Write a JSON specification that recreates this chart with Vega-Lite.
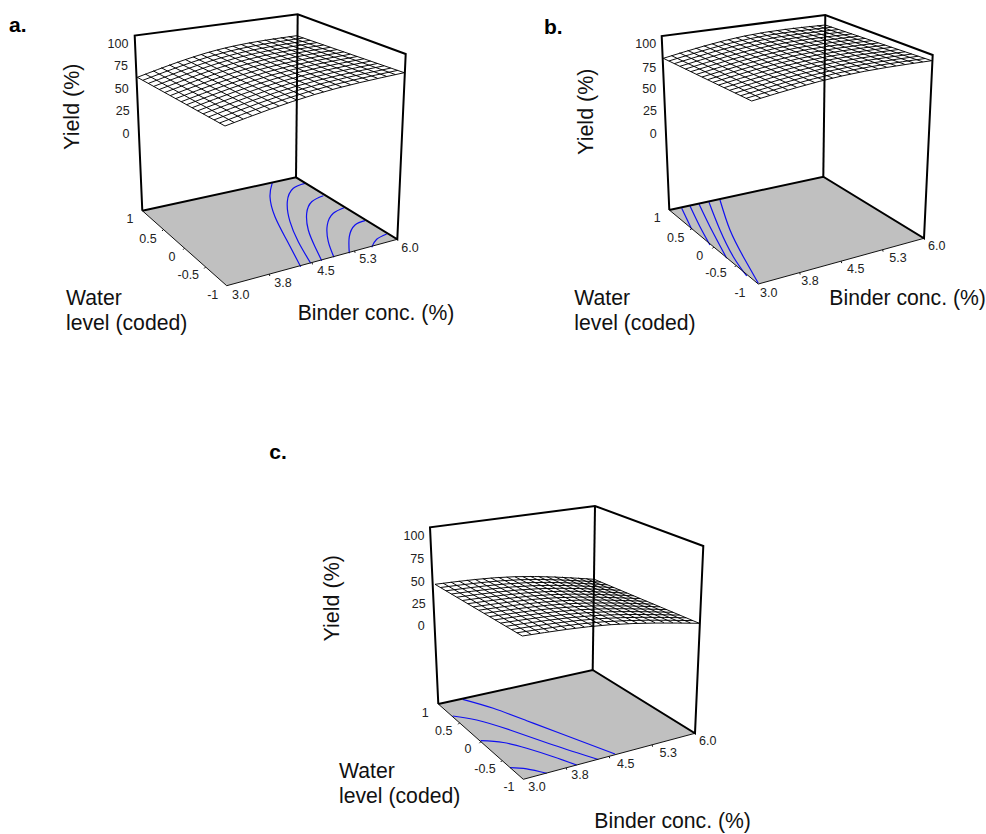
{"$schema":"https://vega.github.io/schema/vega-lite/v6.json","width":986,"height":834,"padding":0,"autosize":{"type":"none"},"background":"white","config":{"view":{"stroke":null}},
"datasets":{
"floor":[
{"p":"a","x":142.3,"y":210.7,"y2":210.7},{"p":"a","x":226.7,"y":192.4,"y2":285.7},{"p":"a","x":296,"y":177.3,"y2":266.9},{"p":"a","x":397.3,"y":239.3,"y2":239.3},
{"p":"b","x":669.3,"y":210,"y2":210},{"p":"b","x":758.3,"y":190.8,"y2":284},{"p":"b","x":823.3,"y":176.7,"y2":266.1},{"p":"b","x":924,"y":238.3,"y2":238.3},
{"p":"c","x":438.3,"y":704,"y2":704},{"p":"c","x":523.3,"y":685.3,"y2":779.3},{"p":"c","x":592.7,"y":670,"y2":760.7},{"p":"c","x":695,"y":733.3,"y2":733.3}],
"mesh":[
{"l":"aA0","x":137.3,"y":77.3},{"l":"aA0","x":217,"y":50},{"l":"aA0","x":296.7,"y":35.7},
{"l":"aA1","x":142.8,"y":80.3},{"l":"aA1","x":223.1,"y":52.8},{"l":"aA1","x":303.4,"y":38},
{"l":"aA2","x":148.3,"y":83.4},{"l":"aA2","x":229.2,"y":55.6},{"l":"aA2","x":310.1,"y":40.3},
{"l":"aA3","x":153.7,"y":86.4},{"l":"aA3","x":235.3,"y":58.3},{"l":"aA3","x":316.9,"y":42.6},
{"l":"aA4","x":159.2,"y":89.5},{"l":"aA4","x":241.4,"y":61.1},{"l":"aA4","x":323.6,"y":45},
{"l":"aA5","x":164.7,"y":92.5},{"l":"aA5","x":247.5,"y":63.9},{"l":"aA5","x":330.3,"y":47.3},
{"l":"aA6","x":170.2,"y":95.6},{"l":"aA6","x":253.6,"y":66.7},{"l":"aA6","x":337,"y":49.6},
{"l":"aA7","x":175.7,"y":98.6},{"l":"aA7","x":259.7,"y":69.5},{"l":"aA7","x":343.8,"y":51.9},
{"l":"aA8","x":181.2,"y":101.7},{"l":"aA8","x":265.8,"y":72.3},{"l":"aA8","x":350.5,"y":54.2},
{"l":"aA9","x":186.6,"y":104.7},{"l":"aA9","x":271.9,"y":75},{"l":"aA9","x":357.2,"y":56.5},
{"l":"aA10","x":192.1,"y":107.7},{"l":"aA10","x":278,"y":77.8},{"l":"aA10","x":363.9,"y":58.8},
{"l":"aA11","x":197.6,"y":110.8},{"l":"aA11","x":284.1,"y":80.6},{"l":"aA11","x":370.7,"y":61.1},
{"l":"aA12","x":203.1,"y":113.8},{"l":"aA12","x":290.2,"y":83.4},{"l":"aA12","x":377.4,"y":63.5},
{"l":"aA13","x":208.6,"y":116.9},{"l":"aA13","x":296.3,"y":86.2},{"l":"aA13","x":384.1,"y":65.8},
{"l":"aA14","x":214,"y":119.9},{"l":"aA14","x":302.4,"y":88.9},{"l":"aA14","x":390.8,"y":68.1},
{"l":"aA15","x":219.5,"y":123},{"l":"aA15","x":308.5,"y":91.7},{"l":"aA15","x":397.6,"y":70.4},
{"l":"aA16","x":225,"y":126},{"l":"aA16","x":314.6,"y":94.5},{"l":"aA16","x":404.3,"y":72.7},
{"l":"aB0","x":137.3,"y":77.3},{"l":"aB0","x":181.2,"y":101.7},{"l":"aB0","x":225,"y":126},
{"l":"aB1","x":145.3,"y":74},{"l":"aB1","x":189.7,"y":98.3},{"l":"aB1","x":234,"y":122.4},
{"l":"aB2","x":153.2,"y":70.8},{"l":"aB2","x":198.1,"y":94.9},{"l":"aB2","x":242.9,"y":118.9},
{"l":"aB3","x":161.2,"y":67.7},{"l":"aB3","x":206.6,"y":91.7},{"l":"aB3","x":251.9,"y":115.5},
{"l":"aB4","x":169.2,"y":64.8},{"l":"aB4","x":215.1,"y":88.6},{"l":"aB4","x":260.9,"y":112.2},
{"l":"aB5","x":177.2,"y":62},{"l":"aB5","x":223.5,"y":85.6},{"l":"aB5","x":269.8,"y":109},
{"l":"aB6","x":185.1,"y":59.4},{"l":"aB6","x":232,"y":82.7},{"l":"aB6","x":278.8,"y":105.9},
{"l":"aB7","x":193.1,"y":56.8},{"l":"aB7","x":240.5,"y":80},{"l":"aB7","x":287.8,"y":102.9},
{"l":"aB8","x":201.1,"y":54.4},{"l":"aB8","x":248.9,"y":77.3},{"l":"aB8","x":296.7,"y":100},
{"l":"aB9","x":209,"y":52.1},{"l":"aB9","x":257.4,"y":74.7},{"l":"aB9","x":305.7,"y":97.2},
{"l":"aB10","x":217,"y":50},{"l":"aB10","x":265.9,"y":72.3},{"l":"aB10","x":314.7,"y":94.5},
{"l":"aB11","x":225,"y":48},{"l":"aB11","x":274.3,"y":70},{"l":"aB11","x":323.6,"y":91.9},
{"l":"aB12","x":232.9,"y":46.1},{"l":"aB12","x":282.8,"y":67.8},{"l":"aB12","x":332.6,"y":89.3},
{"l":"aB13","x":240.9,"y":44.3},{"l":"aB13","x":291.2,"y":65.7},{"l":"aB13","x":341.5,"y":86.9},
{"l":"aB14","x":248.9,"y":42.7},{"l":"aB14","x":299.7,"y":63.7},{"l":"aB14","x":350.5,"y":84.6},
{"l":"aB15","x":256.9,"y":41.2},{"l":"aB15","x":308.2,"y":61.9},{"l":"aB15","x":359.5,"y":82.4},
{"l":"aB16","x":264.8,"y":39.9},{"l":"aB16","x":316.6,"y":60.1},{"l":"aB16","x":368.4,"y":80.3},
{"l":"aB17","x":272.8,"y":38.6},{"l":"aB17","x":325.1,"y":58.4},{"l":"aB17","x":377.4,"y":78.2},
{"l":"aB18","x":280.8,"y":37.5},{"l":"aB18","x":333.6,"y":56.9},{"l":"aB18","x":386.4,"y":76.3},
{"l":"aB19","x":288.7,"y":36.5},{"l":"aB19","x":342,"y":55.5},{"l":"aB19","x":395.3,"y":74.5},
{"l":"aB20","x":296.7,"y":35.7},{"l":"aB20","x":350.5,"y":54.2},{"l":"aB20","x":404.3,"y":72.7},
{"l":"bA0","x":663.3,"y":58.3},{"l":"bA0","x":744.5,"y":36},{"l":"bA0","x":825.3,"y":25},
{"l":"bA1","x":668.8,"y":61},{"l":"bA1","x":750.6,"y":38.5},{"l":"bA1","x":832,"y":27.2},
{"l":"bA2","x":674.4,"y":63.6},{"l":"bA2","x":756.7,"y":41},{"l":"bA2","x":838.6,"y":29.5},
{"l":"bA3","x":679.9,"y":66.3},{"l":"bA3","x":762.7,"y":43.5},{"l":"bA3","x":845.3,"y":31.7},
{"l":"bA4","x":685.4,"y":69},{"l":"bA4","x":768.8,"y":46},{"l":"bA4","x":851.9,"y":33.9},
{"l":"bA5","x":690.9,"y":71.6},{"l":"bA5","x":774.9,"y":48.5},{"l":"bA5","x":858.6,"y":36.2},
{"l":"bA6","x":696.5,"y":74.3},{"l":"bA6","x":781,"y":51},{"l":"bA6","x":865.2,"y":38.4},
{"l":"bA7","x":702,"y":77},{"l":"bA7","x":787,"y":53.5},{"l":"bA7","x":871.9,"y":40.6},
{"l":"bA8","x":707.5,"y":79.7},{"l":"bA8","x":793.1,"y":56},{"l":"bA8","x":878.5,"y":42.9},
{"l":"bA9","x":713,"y":82.3},{"l":"bA9","x":799.2,"y":58.5},{"l":"bA9","x":885.2,"y":45.1},
{"l":"bA10","x":718.6,"y":85},{"l":"bA10","x":805.3,"y":61},{"l":"bA10","x":891.8,"y":47.3},
{"l":"bA11","x":724.1,"y":87.7},{"l":"bA11","x":811.3,"y":63.5},{"l":"bA11","x":898.5,"y":49.5},
{"l":"bA12","x":729.6,"y":90.3},{"l":"bA12","x":817.4,"y":66},{"l":"bA12","x":905.1,"y":51.8},
{"l":"bA13","x":735.1,"y":93},{"l":"bA13","x":823.5,"y":68.5},{"l":"bA13","x":911.8,"y":54},
{"l":"bA14","x":740.7,"y":95.7},{"l":"bA14","x":829.6,"y":71},{"l":"bA14","x":918.4,"y":56.2},
{"l":"bA15","x":746.2,"y":98.3},{"l":"bA15","x":835.6,"y":73.5},{"l":"bA15","x":925.1,"y":58.5},
{"l":"bA16","x":751.7,"y":101},{"l":"bA16","x":841.7,"y":76},{"l":"bA16","x":931.7,"y":60.7},
{"l":"bB0","x":663.3,"y":58.3},{"l":"bB0","x":707.5,"y":79.7},{"l":"bB0","x":751.7,"y":101},
{"l":"bB1","x":671.4,"y":55.6},{"l":"bB1","x":716.1,"y":76.9},{"l":"bB1","x":760.7,"y":98.1},
{"l":"bB2","x":679.5,"y":52.9},{"l":"bB2","x":724.6,"y":74.1},{"l":"bB2","x":769.7,"y":95.2},
{"l":"bB3","x":687.6,"y":50.4},{"l":"bB3","x":733.2,"y":71.5},{"l":"bB3","x":778.7,"y":92.5},
{"l":"bB4","x":695.7,"y":48},{"l":"bB4","x":741.7,"y":69},{"l":"bB4","x":787.7,"y":89.8},
{"l":"bB5","x":703.8,"y":45.7},{"l":"bB5","x":750.3,"y":66.5},{"l":"bB5","x":796.7,"y":87.3},
{"l":"bB6","x":711.9,"y":43.6},{"l":"bB6","x":758.8,"y":64.2},{"l":"bB6","x":805.7,"y":84.8},
{"l":"bB7","x":720,"y":41.5},{"l":"bB7","x":767.4,"y":62},{"l":"bB7","x":814.7,"y":82.5},
{"l":"bB8","x":728.1,"y":39.6},{"l":"bB8","x":775.9,"y":59.9},{"l":"bB8","x":823.7,"y":80.2},
{"l":"bB9","x":736.2,"y":37.7},{"l":"bB9","x":784.5,"y":57.9},{"l":"bB9","x":832.7,"y":78.1},
{"l":"bB10","x":744.3,"y":36},{"l":"bB10","x":793,"y":56},{"l":"bB10","x":841.7,"y":76},
{"l":"bB11","x":752.4,"y":34.4},{"l":"bB11","x":801.6,"y":54.2},{"l":"bB11","x":850.7,"y":74},
{"l":"bB12","x":760.5,"y":32.9},{"l":"bB12","x":810.1,"y":52.5},{"l":"bB12","x":859.7,"y":72.2},
{"l":"bB13","x":768.6,"y":31.5},{"l":"bB13","x":818.7,"y":51},{"l":"bB13","x":868.7,"y":70.4},
{"l":"bB14","x":776.7,"y":30.3},{"l":"bB14","x":827.2,"y":49.5},{"l":"bB14","x":877.7,"y":68.7},
{"l":"bB15","x":784.8,"y":29.1},{"l":"bB15","x":835.8,"y":48.1},{"l":"bB15","x":886.7,"y":67.2},
{"l":"bB16","x":792.9,"y":28},{"l":"bB16","x":844.3,"y":46.9},{"l":"bB16","x":895.7,"y":65.7},
{"l":"bB17","x":801,"y":27.1},{"l":"bB17","x":852.9,"y":45.7},{"l":"bB17","x":904.7,"y":64.3},
{"l":"bB18","x":809.1,"y":26.3},{"l":"bB18","x":861.4,"y":44.7},{"l":"bB18","x":913.7,"y":63},
{"l":"bB19","x":817.2,"y":25.6},{"l":"bB19","x":870,"y":43.7},{"l":"bB19","x":922.7,"y":61.8},
{"l":"bB20","x":825.3,"y":25},{"l":"bB20","x":878.5,"y":42.9},{"l":"bB20","x":931.7,"y":60.7},
{"l":"cA0","x":435,"y":584.3},{"l":"cA0","x":514.7,"y":576.7},{"l":"cA0","x":594.3,"y":579.3},
{"l":"cA1","x":440.5,"y":587.5},{"l":"cA1","x":520.7,"y":579.7},{"l":"cA1","x":600.9,"y":582.1},
{"l":"cA2","x":445.9,"y":590.8},{"l":"cA2","x":526.7,"y":582.7},{"l":"cA2","x":607.4,"y":584.8},
{"l":"cA3","x":451.4,"y":594},{"l":"cA3","x":532.7,"y":585.7},{"l":"cA3","x":614,"y":587.6},
{"l":"cA4","x":456.8,"y":597.2},{"l":"cA4","x":538.7,"y":588.7},{"l":"cA4","x":620.6,"y":590.3},
{"l":"cA5","x":462.3,"y":600.5},{"l":"cA5","x":544.7,"y":591.7},{"l":"cA5","x":627.1,"y":593.1},
{"l":"cA6","x":467.7,"y":603.7},{"l":"cA6","x":550.7,"y":594.7},{"l":"cA6","x":633.7,"y":595.8},
{"l":"cA7","x":473.2,"y":606.9},{"l":"cA7","x":556.7,"y":597.7},{"l":"cA7","x":640.2,"y":598.6},
{"l":"cA8","x":478.7,"y":610.2},{"l":"cA8","x":562.8,"y":600.7},{"l":"cA8","x":646.8,"y":601.3},
{"l":"cA9","x":484.1,"y":613.4},{"l":"cA9","x":568.8,"y":603.7},{"l":"cA9","x":653.4,"y":604.1},
{"l":"cA10","x":489.6,"y":616.6},{"l":"cA10","x":574.8,"y":606.7},{"l":"cA10","x":659.9,"y":606.8},
{"l":"cA11","x":495,"y":619.8},{"l":"cA11","x":580.8,"y":609.7},{"l":"cA11","x":666.5,"y":609.6},
{"l":"cA12","x":500.5,"y":623.1},{"l":"cA12","x":586.8,"y":612.7},{"l":"cA12","x":673.1,"y":612.3},
{"l":"cA13","x":505.9,"y":626.3},{"l":"cA13","x":592.8,"y":615.7},{"l":"cA13","x":679.6,"y":615.1},
{"l":"cA14","x":511.4,"y":629.5},{"l":"cA14","x":598.8,"y":618.7},{"l":"cA14","x":686.2,"y":617.8},
{"l":"cA15","x":516.8,"y":632.8},{"l":"cA15","x":604.8,"y":621.7},{"l":"cA15","x":692.7,"y":620.6},
{"l":"cA16","x":522.3,"y":636},{"l":"cA16","x":610.8,"y":624.7},{"l":"cA16","x":699.3,"y":623.3},
{"l":"cB0","x":435,"y":584.3},{"l":"cB0","x":478.7,"y":610.2},{"l":"cB0","x":522.3,"y":636},
{"l":"cB1","x":443,"y":583.1},{"l":"cB1","x":487.1,"y":608.8},{"l":"cB1","x":531.2,"y":634.4},
{"l":"cB2","x":450.9,"y":582},{"l":"cB2","x":495.5,"y":607.5},{"l":"cB2","x":540,"y":632.9},
{"l":"cB3","x":458.9,"y":581},{"l":"cB3","x":503.9,"y":606.3},{"l":"cB3","x":548.9,"y":631.6},
{"l":"cB4","x":466.9,"y":580},{"l":"cB4","x":512.3,"y":605.2},{"l":"cB4","x":557.7,"y":630.3},
{"l":"cB5","x":474.8,"y":579.2},{"l":"cB5","x":520.7,"y":604.2},{"l":"cB5","x":566.6,"y":629.1},
{"l":"cB6","x":482.8,"y":578.5},{"l":"cB6","x":529.1,"y":603.3},{"l":"cB6","x":575.4,"y":628},
{"l":"cB7","x":490.8,"y":577.9},{"l":"cB7","x":537.5,"y":602.5},{"l":"cB7","x":584.3,"y":627},
{"l":"cB8","x":498.7,"y":577.4},{"l":"cB8","x":545.9,"y":601.8},{"l":"cB8","x":593.1,"y":626.1},
{"l":"cB9","x":506.7,"y":577},{"l":"cB9","x":554.3,"y":601.2},{"l":"cB9","x":602,"y":625.3},
{"l":"cB10","x":514.7,"y":576.7},{"l":"cB10","x":562.8,"y":600.7},{"l":"cB10","x":610.8,"y":624.7},
{"l":"cB11","x":522.6,"y":576.5},{"l":"cB11","x":571.2,"y":600.3},{"l":"cB11","x":619.7,"y":624.1},
{"l":"cB12","x":530.6,"y":576.4},{"l":"cB12","x":579.6,"y":600},{"l":"cB12","x":628.5,"y":623.6},
{"l":"cB13","x":538.5,"y":576.4},{"l":"cB13","x":588,"y":599.8},{"l":"cB13","x":637.4,"y":623.2},
{"l":"cB14","x":546.5,"y":576.5},{"l":"cB14","x":596.4,"y":599.7},{"l":"cB14","x":646.2,"y":622.9},
{"l":"cB15","x":554.5,"y":576.7},{"l":"cB15","x":604.8,"y":599.7},{"l":"cB15","x":655.1,"y":622.7},
{"l":"cB16","x":562.4,"y":577},{"l":"cB16","x":613.2,"y":599.9},{"l":"cB16","x":663.9,"y":622.6},
{"l":"cB17","x":570.4,"y":577.5},{"l":"cB17","x":621.6,"y":600.1},{"l":"cB17","x":672.8,"y":622.7},
{"l":"cB18","x":578.4,"y":578},{"l":"cB18","x":630,"y":600.4},{"l":"cB18","x":681.6,"y":622.8},
{"l":"cB19","x":586.3,"y":578.6},{"l":"cB19","x":638.4,"y":600.8},{"l":"cB19","x":690.5,"y":623},
{"l":"cB20","x":594.3,"y":579.3},{"l":"cB20","x":646.8,"y":601.3},{"l":"cB20","x":699.3,"y":623.3}],
"contour":[
{"l":"a1","x":272.3,"y":182.7},{"l":"a1","x":270,"y":196.7},{"l":"a1","x":275,"y":216.7},{"l":"a1","x":286.7,"y":240},{"l":"a1","x":300.7,"y":266.7},
{"l":"a2","x":305,"y":183.3},{"l":"a2","x":293.3,"y":188.3},{"l":"a2","x":287.3,"y":201.7},{"l":"a2","x":290,"y":221.7},{"l":"a2","x":298.3,"y":241.7},{"l":"a2","x":310.7,"y":263.3},
{"l":"a3","x":323.3,"y":195.7},{"l":"a3","x":311.7,"y":201.7},{"l":"a3","x":306.7,"y":213.3},{"l":"a3","x":308.3,"y":230},{"l":"a3","x":315,"y":246.7},{"l":"a3","x":321.7,"y":260.7},
{"l":"a4","x":344,"y":207.7},{"l":"a4","x":333.3,"y":213.3},{"l":"a4","x":327.3,"y":225},{"l":"a4","x":328.3,"y":241.7},{"l":"a4","x":334,"y":257.3},
{"l":"a5","x":365,"y":220.7},{"l":"a5","x":355,"y":225},{"l":"a5","x":349.3,"y":236.7},{"l":"a5","x":349.3,"y":253.3},
{"l":"a6","x":386.7,"y":234},{"l":"a6","x":376.7,"y":239.3},{"l":"a6","x":371.7,"y":247.3},
{"l":"b1","x":681.7,"y":208.3},{"l":"b1","x":691.7,"y":229.3},
{"l":"b2","x":690,"y":206},{"l":"b2","x":700,"y":226.7},{"l":"b2","x":710,"y":245},
{"l":"b3","x":699,"y":204},{"l":"b3","x":710,"y":226.7},{"l":"b3","x":726.7,"y":258.3},
{"l":"b4","x":709,"y":202.3},{"l":"b4","x":720,"y":230},{"l":"b4","x":733.3,"y":256.7},{"l":"b4","x":746.7,"y":276},
{"l":"b5","x":720,"y":200},{"l":"b5","x":730,"y":230},{"l":"b5","x":743.3,"y":256.7},{"l":"b5","x":758.3,"y":283.3},
{"l":"c1","x":462.7,"y":699.3},{"l":"c1","x":493.3,"y":708.3},{"l":"c1","x":526.7,"y":720.7},{"l":"c1","x":560,"y":733.3},{"l":"c1","x":615,"y":754},
{"l":"c2","x":452.7,"y":716},{"l":"c2","x":476.7,"y":720},{"l":"c2","x":510,"y":730},{"l":"c2","x":553.3,"y":745},{"l":"c2","x":598.3,"y":759.5},
{"l":"c3","x":480.7,"y":740.7},{"l":"c3","x":503.3,"y":742.5},{"l":"c3","x":526.7,"y":748.3},{"l":"c3","x":553.3,"y":756.7},{"l":"c3","x":576.7,"y":765},
{"l":"c4","x":510,"y":767.7},{"l":"c4","x":526.7,"y":768.8},{"l":"c4","x":546.7,"y":773.3}],
"frame":[
{"l":"a1","x":142.3,"y":210.7},{"l":"a1","x":134.7,"y":35.5},{"l":"a1","x":297.7,"y":14.3},{"l":"a1","x":405.7,"y":54},{"l":"a1","x":397.3,"y":239.3},{"l":"a1","x":296,"y":177.3},{"l":"a1","x":142.3,"y":210.7},
{"l":"a2","x":297.7,"y":14.3},{"l":"a2","x":296,"y":177.3},
{"l":"b1","x":669.3,"y":210},{"l":"b1","x":661.7,"y":36},{"l":"b1","x":825.3,"y":15},{"l":"b1","x":932.7,"y":55},{"l":"b1","x":924,"y":238.3},{"l":"b1","x":823.3,"y":176.7},{"l":"b1","x":669.3,"y":210},
{"l":"b2","x":825.3,"y":15},{"l":"b2","x":823.3,"y":176.7},
{"l":"c1","x":438.3,"y":704},{"l":"c1","x":430,"y":527.3},{"l":"c1","x":595,"y":506},{"l":"c1","x":703.3,"y":546},{"l":"c1","x":695,"y":733.3},{"l":"c1","x":592.7,"y":670},{"l":"c1","x":438.3,"y":704},
{"l":"c2","x":595,"y":506},{"l":"c2","x":592.7,"y":670}],
"edge":[
{"l":"a","x":142.3,"y":210.7},{"l":"a","x":226.7,"y":285.7},{"l":"a","x":397.3,"y":239.3},
{"l":"at1","x":269.3,"y":274.1},{"l":"at1","x":269.8,"y":276},{"l":"at2","x":312,"y":262.5},{"l":"at2","x":312.5,"y":264.4},{"l":"at3","x":354.6,"y":250.9},{"l":"at3","x":355.1,"y":252.8},
{"l":"at4","x":163.4,"y":229.5},{"l":"at4","x":162,"y":231},{"l":"at5","x":184.5,"y":248.2},{"l":"at5","x":183.1,"y":249.7},{"l":"at6","x":205.6,"y":267},{"l":"at6","x":204.2,"y":268.5},
{"l":"b","x":669.3,"y":210},{"l":"b","x":758.3,"y":284},{"l":"b","x":924,"y":238.3},
{"l":"bt1","x":799.7,"y":272.6},{"l":"bt1","x":800.2,"y":274.5},{"l":"bt2","x":841.2,"y":261.2},{"l":"bt2","x":841.7,"y":263.1},{"l":"bt3","x":882.6,"y":249.7},{"l":"bt3","x":883.1,"y":251.6},
{"l":"bt4","x":691.6,"y":228.5},{"l":"bt4","x":690.2,"y":230},{"l":"bt5","x":713.8,"y":247},{"l":"bt5","x":712.4,"y":248.5},{"l":"bt6","x":736.1,"y":265.5},{"l":"bt6","x":734.7,"y":267},
{"l":"c","x":438.3,"y":704},{"l":"c","x":523.3,"y":779.3},{"l":"c","x":695,"y":733.3},
{"l":"ct1","x":566.2,"y":767.8},{"l":"ct1","x":566.7,"y":769.7},{"l":"ct2","x":609.2,"y":756.3},{"l":"ct2","x":609.7,"y":758.2},{"l":"ct3","x":652.1,"y":744.8},{"l":"ct3","x":652.6,"y":746.7},
{"l":"ct4","x":459.6,"y":722.8},{"l":"ct4","x":458.2,"y":724.3},{"l":"ct5","x":480.8,"y":741.7},{"l":"ct5","x":479.4,"y":743.2},{"l":"ct6","x":502.1,"y":760.5},{"l":"ct6","x":500.7,"y":762}],
"ticks":[
{"t":"100","x":118,"y":44.3},{"t":"75","x":121,"y":66.3},{"t":"50","x":121.7,"y":89.3},{"t":"25","x":122.7,"y":111.3},{"t":"0","x":126,"y":134.3},
{"t":"1","x":130,"y":219.3},{"t":"0.5","x":148,"y":238.7},{"t":"0","x":172,"y":256.7},{"t":"-0.5","x":188.3,"y":275.3},{"t":"-1","x":212.7,"y":294.7},
{"t":"3.0","x":240.7,"y":294.7},{"t":"3.8","x":283,"y":282.7},{"t":"4.5","x":326,"y":271.3},{"t":"5.3","x":368,"y":259.3},{"t":"6.0","x":410,"y":248.3},
{"t":"100","x":645.7,"y":44.3},{"t":"75","x":649.3,"y":67.7},{"t":"50","x":649.3,"y":89.3},{"t":"25","x":650,"y":111.3},{"t":"0","x":653.3,"y":134.3},
{"t":"1","x":657.3,"y":218.3},{"t":"0.5","x":675.7,"y":237.7},{"t":"0","x":699.7,"y":255.7},{"t":"-0.5","x":716,"y":273.3},{"t":"-1","x":740,"y":292.7},
{"t":"3.0","x":768.7,"y":292.7},{"t":"3.8","x":810,"y":280.7},{"t":"4.5","x":855.7,"y":269.3},{"t":"5.3","x":898,"y":258.3},{"t":"6.0","x":936.7,"y":246},
{"t":"100","x":414,"y":535.7},{"t":"75","x":417.3,"y":558.7},{"t":"50","x":417.7,"y":581.7},{"t":"25","x":418.7,"y":603.7},{"t":"0","x":421.3,"y":626.3},
{"t":"1","x":425.3,"y":712.7},{"t":"0.5","x":443.7,"y":730.7},{"t":"0","x":468,"y":749.3},{"t":"-0.5","x":485,"y":768.7},{"t":"-1","x":509,"y":786.7},
{"t":"3.0","x":537,"y":786.7},{"t":"3.8","x":580,"y":775.3},{"t":"4.5","x":625.7,"y":764},{"t":"5.3","x":668.3,"y":752.7},{"t":"6.0","x":707.7,"y":740.7}],
"titles":[
{"t":"Water","x":66,"y":299.3},{"t":"level (coded)","x":66,"y":324.3},{"t":"Binder conc. (%)","x":297.7,"y":314.3},
{"t":"Water","x":574.3,"y":299.3},{"t":"level (coded)","x":574.3,"y":324.3},{"t":"Binder conc. (%)","x":829.3,"y":299.3},
{"t":"Water","x":339,"y":771.7},{"t":"level (coded)","x":339,"y":796.7},{"t":"Binder conc. (%)","x":594.3,"y":822.3}],
"yield":[{"t":"Yield (%)","x":73.3,"y":106.7},{"t":"Yield (%)","x":587.3,"y":111.7},{"t":"Yield (%)","x":333.3,"y":598.3}],
"panels":[{"t":"a.","x":9,"y":26},{"t":"b.","x":544,"y":28},{"t":"c.","x":269.3,"y":452.7}]
},
"encoding":{
"x":{"field":"x","type":"quantitative","scale":{"domain":[0,986],"nice":false,"zero":false},"axis":null},
"y":{"field":"y","type":"quantitative","scale":{"domain":[834,0],"nice":false,"zero":false},"axis":null}},
"layer":[
{"data":{"name":"floor"},"mark":{"type":"area","color":"#c0c0c0","interpolate":"linear"},"encoding":{"y2":{"field":"y2"},"detail":{"field":"p"}}},
{"data":{"name":"mesh"},"mark":{"type":"line","color":"#000000","strokeWidth":0.95,"interpolate":"natural"},"encoding":{"detail":{"field":"l"},"order":{"value":null}}},
{"data":{"name":"contour"},"mark":{"type":"line","color":"#1010f0","strokeWidth":1.2,"interpolate":"natural"},"encoding":{"detail":{"field":"l"},"order":{"value":null}}},
{"data":{"name":"edge"},"mark":{"type":"line","color":"#111111","strokeWidth":1},"encoding":{"detail":{"field":"l"},"order":{"value":null}}},
{"data":{"name":"frame"},"mark":{"type":"line","color":"#000000","strokeWidth":2},"encoding":{"detail":{"field":"l"},"order":{"value":null}}},
{"data":{"name":"ticks"},"mark":{"type":"text","font":"Liberation Sans","fontSize":12.5,"color":"#222222","align":"center","baseline":"middle"},"encoding":{"text":{"field":"t"}}},
{"data":{"name":"titles"},"mark":{"type":"text","font":"Liberation Sans","fontSize":21.2,"color":"#111111","align":"left","baseline":"middle"},"encoding":{"text":{"field":"t"}}},
{"data":{"name":"yield"},"mark":{"type":"text","font":"Liberation Sans","fontSize":21.5,"color":"#111111","align":"center","baseline":"middle","angle":270},"encoding":{"text":{"field":"t"}}},
{"data":{"name":"panels"},"mark":{"type":"text","font":"Liberation Sans","fontSize":21,"fontWeight":"bold","color":"#000000","align":"left","baseline":"middle"},"encoding":{"text":{"field":"t"}}}
]}
